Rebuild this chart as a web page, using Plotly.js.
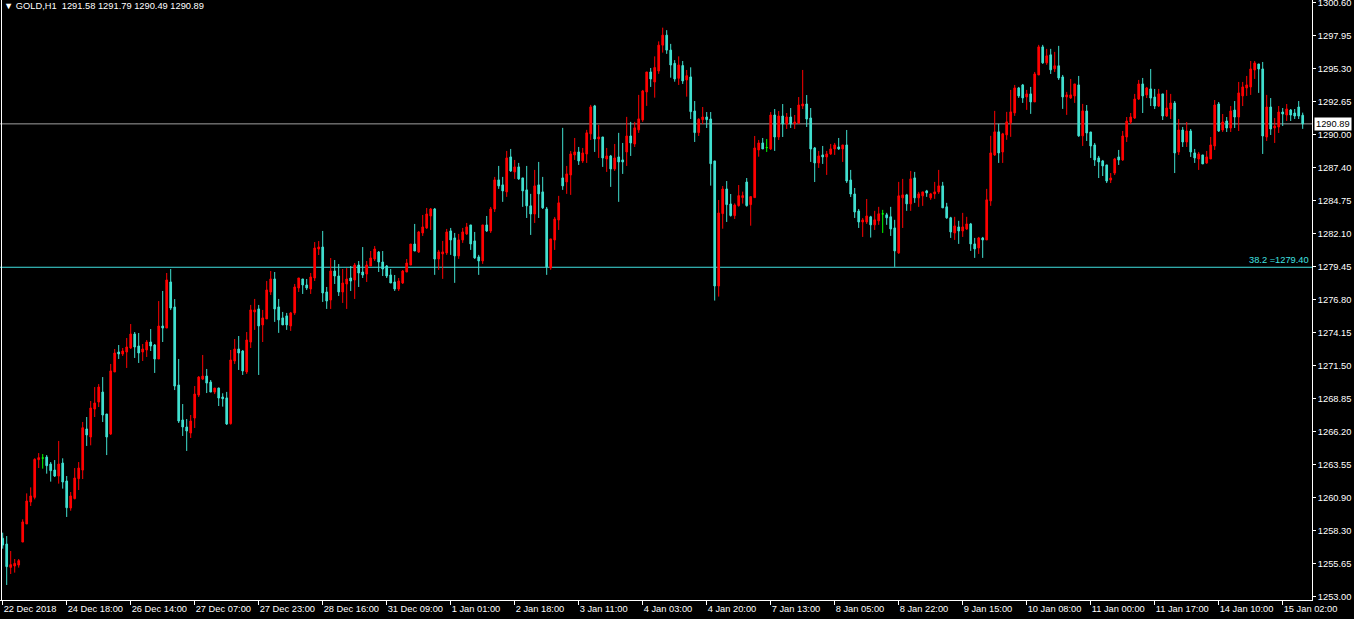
<!DOCTYPE html>
<html><head><meta charset="utf-8">
<script src="https://cdn.plot.ly/plotly-3.0.1.min.js"></script>
<style>html,body{margin:0;padding:0;background:#000;overflow:hidden}#chart{width:1354px;height:619px}</style>
</head><body><div id="chart"></div>
<script>
// GOLD H1 bars (index 0 = first visible bar)
const openP = [
1257.68,1257.22,1255.35,1255.46,1255.54,1257.38,1258.83,1260.59,1260.96,1263.98,
1264.11,1264.19,1263.63,1263.15,1262.67,1263.71,1262.27,1260.11,1260.86,1262.46,
1263.15,1266.44,1265.80,1268.04,1268.60,1269.40,1267.64,1266.04,1271.01,1272.61,
1272.45,1272.61,1272.93,1274.05,1273.09,1272.61,1272.77,1273.41,1273.17,1272.05,
1274.69,1274.53,1278.22,1276.21,1269.96,1267.16,1266.60,1266.12,1267.32,1269.16,
1270.44,1270.68,1270.20,1269.40,1269.72,1269.00,1268.93,1266.87,1271.89,1272.85,
1272.69,1271.01,1273.41,1275.82,1276.06,1274.78,1275.26,1277.42,1278.46,1276.22,
1275.34,1275.50,1274.70,1275.74,1277.74,1278.46,1277.98,1277.66,1278.54,1280.86,
1281.02,1277.42,1276.78,1279.10,1278.70,1277.42,1278.06,1278.54,1278.38,1279.58,
1279.02,1278.86,1279.50,1280.06,1280.62,1279.82,1279.50,1278.78,1278.22,1277.66,
1278.14,1279.02,1279.58,1281.26,1280.62,1282.15,1282.55,1283.51,1284.07,1280.07,
1280.47,1280.55,1282.31,1281.75,1280.31,1281.59,1282.07,1282.79,1281.51,1280.23,
1279.91,1282.79,1282.31,1284.07,1286.40,1286.00,1285.44,1288.24,1287.04,1287.44,
1286.56,1285.60,1284.32,1283.67,1286.00,1285.44,1284.07,1279.35,1281.59,1283.19,
1286.56,1286.24,1286.80,1288.40,1288.64,1287.92,1288.48,1290.09,1292.33,1289.68,
1289.84,1288.08,1288.32,1287.28,1288.24,1288.00,1288.64,1289.92,1289.28,1290.41,
1291.21,1293.45,1295.05,1294.25,1295.13,1297.20,1298.00,1296.80,1295.74,1294.54,
1295.56,1294.41,1294.65,1291.92,1290.19,1291.23,1291.44,1291.28,1287.92,1277.90,
1283.70,1285.67,1284.47,1283.54,1284.34,1284.98,1286.23,1284.42,1284.98,1288.80,
1289.36,1288.99,1288.88,1291.60,1289.84,1291.52,1290.88,1291.44,1290.93,1290.96,
1292.33,1292.48,1291.36,1288.96,1287.76,1288.40,1288.24,1288.48,1288.88,1289.04,
1288.88,1289.20,1286.39,1285.27,1283.91,1283.03,1283.03,1283.44,1282.80,1283.12,
1283.68,1283.60,1283.44,1282.55,1280.55,1284.96,1285.20,1284.48,1286.56,1284.96,
1285.12,1285.52,1284.96,1285.28,1285.44,1285.92,1284.24,1283.36,1282.15,1282.63,
1282.31,1282.47,1282.87,1281.27,1280.95,1281.75,1281.59,1284.72,1288.40,1290.25,
1288.64,1290.01,1290.97,1291.77,1293.77,1294.01,1293.05,1293.29,1292.65,1294.81,
1297.06,1295.78,1296.42,1295.30,1295.54,1294.65,1293.05,1292.97,1293.13,1294.01,
1289.93,1291.92,1290.24,1289.20,1288.16,1287.92,1287.60,1286.39,1286.95,1288.24,
1288.00,1289.84,1291.04,1291.36,1292.88,1294.09,1293.21,1293.69,1293.04,1292.32,
1293.29,1291.52,1292.08,1292.56,1288.64,1290.40,1289.44,1290.32,1288.56,1288.08,
1288.40,1287.76,1288.08,1289.12,1292.48,1290.40,1291.12,1290.56,1292.00,1291.44,
1293.13,1293.77,1293.85,1295.21,1295.69,1295.29,1289.84,1292.24,1290.56,1290.64,
1291.84,1291.60,1292.00,1291.76,1292.24,1291.58];
const highP = [
1258.13,1257.86,1256.66,1256.02,1256.02,1259.20,1261.28,1261.76,1264.09,1264.51,
1264.43,1264.35,1263.79,1263.95,1265.48,1264.09,1262.67,1261.39,1263.31,1263.79,
1267.00,1267.40,1268.68,1269.80,1270.04,1270.60,1267.64,1271.65,1272.85,1273.17,
1272.93,1273.73,1274.85,1274.21,1274.13,1273.25,1273.57,1274.45,1273.25,1276.69,
1277.50,1278.94,1279.26,1276.85,1272.05,1268.44,1267.24,1267.56,1269.88,1270.68,
1272.37,1271.25,1270.36,1269.72,1269.75,1269.30,1269.41,1272.77,1273.65,1273.89,
1272.77,1274.21,1276.38,1276.86,1276.38,1275.98,1278.30,1279.10,1279.02,1276.86,
1275.82,1275.74,1275.82,1278.06,1278.54,1278.46,1278.46,1278.94,1281.42,1281.50,
1282.31,1277.82,1280.14,1279.98,1279.66,1279.26,1279.34,1279.50,1279.74,1279.90,
1281.02,1279.90,1280.70,1281.10,1280.70,1280.70,1279.58,1279.26,1278.78,1278.54,
1279.18,1280.06,1281.26,1282.87,1282.31,1283.59,1284.15,1284.15,1284.15,1280.79,
1281.51,1282.47,1282.55,1282.15,1282.07,1282.55,1282.95,1282.79,1282.23,1280.39,
1282.79,1283.51,1284.23,1286.64,1287.52,1286.64,1288.72,1288.88,1288.00,1287.76,
1286.56,1287.52,1285.28,1287.20,1287.84,1286.64,1284.23,1281.67,1283.43,1285.12,
1290.57,1287.52,1288.72,1289.76,1289.04,1288.96,1290.41,1292.41,1292.41,1290.81,
1289.84,1288.96,1288.40,1289.28,1290.17,1289.36,1291.45,1291.05,1291.05,1293.21,
1293.61,1295.05,1295.37,1296.30,1297.50,1298.60,1298.40,1297.30,1296.00,1296.30,
1295.93,1295.21,1295.42,1292.72,1291.34,1292.24,1291.84,1291.84,1287.92,1284.79,
1285.91,1286.31,1285.27,1284.52,1285.99,1285.46,1286.55,1285.06,1289.92,1289.60,
1289.76,1289.68,1291.84,1292.08,1291.92,1292.48,1291.76,1292.16,1291.60,1293.04,
1295.21,1293.20,1292.16,1289.04,1288.72,1289.12,1288.72,1289.28,1289.36,1289.76,
1289.20,1290.40,1287.20,1285.75,1284.07,1283.35,1284.87,1283.52,1283.92,1284.24,
1284.00,1283.76,1284.24,1283.20,1286.24,1286.48,1285.28,1287.12,1287.04,1285.44,
1285.44,1285.60,1285.36,1286.24,1287.20,1286.24,1284.56,1283.44,1283.44,1283.12,
1283.76,1283.44,1282.95,1281.75,1281.83,1281.83,1285.68,1289.93,1291.93,1290.89,
1290.17,1291.85,1293.61,1294.01,1293.85,1294.09,1293.61,1293.85,1295.05,1297.22,
1297.22,1296.90,1296.90,1296.66,1297.14,1294.81,1293.45,1294.49,1294.09,1294.73,
1292.49,1292.40,1290.24,1289.36,1288.32,1288.00,1287.60,1286.95,1288.16,1288.80,
1290.32,1291.44,1291.76,1293.29,1294.41,1294.57,1293.85,1295.29,1293.69,1293.69,
1293.29,1293.61,1293.29,1292.72,1291.28,1290.64,1291.04,1290.48,1288.88,1288.64,
1288.40,1288.72,1289.84,1292.80,1292.64,1291.68,1291.44,1292.32,1292.72,1294.25,
1294.25,1294.73,1295.93,1295.93,1295.69,1295.85,1293.21,1292.96,1291.36,1292.32,
1292.16,1292.48,1292.08,1292.08,1292.72,1291.79];
const lowP = [
1256.85,1253.94,1254.82,1254.93,1255.33,1257.38,1258.83,1260.27,1260.80,1263.31,
1263.26,1262.86,1262.22,1262.59,1262.06,1261.66,1259.39,1259.89,1260.80,1261.55,
1262.43,1265.08,1265.13,1267.40,1268.20,1267.00,1264.35,1265.96,1271.01,1272.05,
1272.29,1271.33,1272.85,1272.13,1271.73,1271.89,1272.21,1272.69,1270.93,1272.05,
1273.41,1274.53,1275.97,1269.56,1266.92,1265.88,1264.68,1265.72,1266.52,1269.00,
1270.36,1269.32,1269.40,1269.24,1268.28,1268.23,1266.76,1266.79,1271.65,1271.17,
1270.77,1270.85,1272.93,1274.38,1270.77,1273.41,1275.26,1277.18,1275.02,1274.14,
1274.78,1274.38,1274.30,1275.58,1277.42,1277.26,1277.58,1277.26,1278.30,1280.38,
1276.62,1276.06,1276.06,1278.06,1277.10,1276.54,1276.06,1277.50,1276.86,1277.82,
1278.54,1278.22,1279.50,1279.90,1279.02,1278.70,1278.54,1278.14,1277.50,1277.50,
1278.06,1279.02,1279.58,1280.70,1280.54,1281.91,1282.47,1282.39,1278.79,1279.19,
1278.47,1280.39,1280.39,1278.15,1280.07,1281.35,1281.99,1280.79,1280.07,1278.79,
1279.67,1282.23,1282.15,1283.83,1285.68,1284.64,1285.04,1287.04,1286.48,1286.40,
1284.24,1283.35,1281.99,1282.95,1283.35,1284.07,1278.79,1279.19,1280.79,1282.39,
1285.60,1285.28,1285.20,1288.00,1287.60,1287.76,1287.76,1289.60,1288.64,1288.16,
1287.44,1287.04,1285.84,1287.12,1284.64,1286.88,1287.52,1288.32,1289.04,1290.17,
1291.05,1292.33,1293.85,1292.99,1294.90,1296.60,1296.50,1294.59,1294.27,1294.01,
1294.09,1293.07,1291.28,1289.44,1289.92,1290.88,1290.56,1285.94,1276.73,1277.05,
1282.49,1283.03,1283.46,1283.27,1284.26,1284.50,1284.26,1282.73,1284.98,1288.26,
1288.88,1288.64,1288.80,1288.72,1289.60,1289.84,1290.48,1290.56,1290.48,1290.88,
1292.08,1290.64,1287.84,1286.23,1287.36,1287.68,1286.80,1288.40,1288.40,1288.80,
1287.84,1286.15,1285.03,1283.35,1282.55,1281.83,1282.87,1281.78,1282.39,1282.80,
1282.15,1282.80,1281.91,1279.43,1280.47,1282.55,1283.92,1283.92,1284.56,1284.24,
1284.32,1285.04,1284.80,1284.88,1285.28,1284.16,1283.28,1281.75,1281.59,1281.27,
1281.83,1282.39,1280.71,1280.15,1280.47,1280.15,1281.59,1284.32,1288.32,1287.76,
1287.76,1289.61,1289.85,1291.53,1292.97,1292.57,1292.01,1291.69,1292.65,1294.81,
1295.70,1295.62,1294.89,1295.05,1294.41,1292.09,1291.61,1292.89,1292.57,1289.85,
1289.12,1289.52,1288.16,1287.52,1286.55,1286.71,1286.15,1286.15,1286.79,1287.60,
1287.92,1289.44,1290.88,1291.28,1292.80,1291.76,1292.96,1292.32,1292.08,1292.24,
1291.20,1291.44,1291.28,1286.95,1288.40,1289.04,1289.04,1288.24,1287.76,1287.20,
1287.68,1287.68,1288.08,1288.80,1290.24,1290.24,1290.24,1290.24,1290.56,1290.32,
1292.32,1293.13,1293.21,1294.49,1293.37,1288.48,1289.52,1290.00,1289.36,1290.16,
1290.72,1291.12,1291.12,1291.28,1291.28,1290.49];
const closeP = [
1257.14,1255.41,1255.57,1255.67,1255.89,1258.99,1260.67,1261.07,1264.01,1264.14,
1264.11,1263.50,1263.10,1262.67,1263.63,1262.19,1260.13,1261.07,1262.51,1263.31,
1266.54,1265.96,1268.12,1268.52,1269.80,1267.56,1265.80,1271.09,1272.53,1272.45,
1272.69,1273.01,1274.05,1273.01,1272.53,1272.85,1273.41,1273.09,1272.05,1274.69,
1274.53,1278.38,1276.13,1269.88,1267.08,1266.60,1266.28,1267.08,1269.24,1270.60,
1270.68,1270.12,1269.40,1269.72,1268.92,1268.87,1266.84,1271.97,1272.85,1272.53,
1271.09,1273.57,1275.98,1275.98,1274.70,1275.34,1277.58,1278.46,1276.06,1275.18,
1274.78,1274.78,1275.74,1277.82,1278.54,1277.98,1277.74,1278.62,1280.94,1281.02,
1277.34,1276.70,1279.10,1278.70,1277.42,1278.14,1278.46,1278.30,1279.58,1278.94,
1278.78,1279.58,1280.14,1280.86,1279.82,1279.26,1278.70,1278.14,1277.66,1278.30,
1279.10,1279.74,1281.26,1280.70,1282.23,1282.63,1283.67,1284.07,1280.06,1280.63,
1280.63,1282.23,1281.59,1280.31,1281.59,1282.23,1282.63,1281.27,1280.15,1279.91,
1282.79,1282.31,1284.07,1286.40,1285.92,1285.52,1288.16,1287.12,1287.44,1286.48,
1285.52,1284.32,1283.67,1285.92,1285.28,1284.16,1279.43,1281.67,1283.27,1284.56,
1285.92,1286.88,1288.48,1288.64,1287.92,1288.56,1290.17,1292.25,1289.68,1289.84,
1288.16,1288.32,1287.28,1288.16,1287.84,1287.84,1289.92,1289.36,1290.57,1291.29,
1293.53,1295.05,1294.49,1295.40,1297.20,1298.00,1296.80,1295.61,1294.49,1295.61,
1294.33,1294.75,1291.87,1290.19,1291.26,1291.44,1291.23,1287.70,1277.90,1283.75,
1285.67,1284.42,1283.54,1284.39,1285.14,1285.14,1284.34,1285.06,1288.96,1289.36,
1288.88,1288.99,1291.60,1289.84,1291.52,1290.88,1291.44,1290.88,1291.04,1292.40,
1292.48,1291.28,1288.88,1287.76,1288.32,1288.24,1288.48,1288.88,1289.20,1288.88,
1289.20,1286.31,1285.27,1283.83,1283.03,1283.19,1283.51,1282.80,1283.20,1283.68,
1283.68,1283.36,1282.47,1280.71,1285.12,1285.20,1284.48,1286.48,1284.96,1285.28,
1285.44,1285.36,1285.28,1285.44,1285.92,1284.16,1283.36,1282.23,1282.71,1282.31,
1282.63,1282.87,1281.27,1280.87,1281.75,1281.59,1284.80,1288.56,1290.25,1288.56,
1290.09,1291.05,1291.85,1293.77,1293.13,1292.97,1293.29,1292.65,1294.89,1297.06,
1295.78,1296.34,1295.22,1295.54,1294.57,1293.05,1293.21,1293.21,1294.09,1289.93,
1291.93,1290.16,1289.12,1288.00,1287.84,1287.52,1286.31,1286.55,1288.08,1288.00,
1289.92,1291.12,1291.44,1292.88,1294.09,1293.13,1293.77,1292.96,1292.32,1293.29,
1291.52,1292.16,1292.56,1288.56,1290.40,1289.44,1290.32,1288.64,1288.16,1288.48,
1287.68,1288.24,1289.20,1292.40,1290.32,1291.04,1290.56,1291.92,1291.44,1293.37,
1293.85,1294.01,1295.29,1295.77,1295.29,1289.92,1292.24,1290.48,1290.72,1291.84,
1291.68,1292.08,1291.60,1291.52,1291.52,1290.89];

// Time axis labels (one every 16 bars)
const timeLabels = ["22 Dec 2018","24 Dec 18:00","26 Dec 14:00","27 Dec 07:00","27 Dec 23:00",
  "28 Dec 16:00","31 Dec 09:00","1 Jan 01:00","2 Jan 18:00","3 Jan 11:00","4 Jan 03:00",
  "4 Jan 20:00","7 Jan 13:00","8 Jan 05:00","8 Jan 22:00","9 Jan 15:00","10 Jan 08:00",
  "11 Jan 00:00","11 Jan 17:00","14 Jan 10:00","15 Jan 02:00"];
const barsPerLabel = 16;
// Price scale labels
const priceLabels = ["1253.00","1255.65","1258.30","1260.90","1263.55","1266.20","1268.85",
  "1271.50","1274.15","1276.80","1279.45","1282.10","1284.75","1287.40","1290.00","1292.65",
  "1295.30","1297.95","1300.60"];
const priceMin = 1253.00, priceMax = 1300.60;
const bidPrice = 1290.89;
const fiboLevel = 1279.40, fiboLabel = "38.2 =1279.40";
const headerText = "GOLD,H1\u00a0\u00a01291.58 1291.79 1290.49 1290.89";

// ---------- build ----------
const idx = openP.map((_, i) => i);
const isDoji = i => openP[i] === closeP[i];
const sel = (arr, cond) => idx.filter(cond).map(i => arr[i]);
const notDoji = i => !isDoji(i);

const RED = '#ff0000', CYAN = '#40e0d0', LIME = '#00ff00';
const main = {
  type: 'candlestick',
  x: sel(idx, notDoji), open: sel(openP, notDoji), high: sel(highP, notDoji),
  low: sel(lowP, notDoji), close: sel(closeP, notDoji),
  increasing: {line: {color: RED, width: 1}, fillcolor: RED},
  decreasing: {line: {color: CYAN, width: 1}, fillcolor: CYAN},
  whiskerwidth: 0, hoverinfo: 'skip', showlegend: false
};
const doji = {
  type: 'candlestick',
  x: sel(idx, isDoji), open: sel(openP, isDoji), high: sel(highP, isDoji),
  low: sel(lowP, isDoji), close: sel(closeP, isDoji),
  increasing: {line: {color: LIME, width: 1}, fillcolor: LIME},
  decreasing: {line: {color: LIME, width: 1}, fillcolor: LIME},
  whiskerwidth: 0, hoverinfo: 'skip', showlegend: false
};

const W = 1354, H = 619;
const mR = 42, mB = 19;
const plotW = W - mR, plotH = H - mB;
const barPx = 4, firstBarPx = 2.7;
const x0 = -firstBarPx / barPx;
const pxPerPrice = 594 / (priceMax - priceMin);
const yTop = priceMax + 2.7 / pxPerPrice;
const yBot = priceMin - (plotH - 596.7) / pxPerPrice;

const step = (priceMax - priceMin) / (priceLabels.length - 1);
const yTickVals = priceLabels.map((_, k) => priceMin + k * step);
const xTickVals = timeLabels.map((_, k) => k * barsPerLabel);

const FONT = 'Liberation Sans, Arial, sans-serif';
const layout = {
  width: W, height: H,
  paper_bgcolor: '#000', plot_bgcolor: '#000',
  margin: {l: 0, r: mR, t: 0, b: mB, pad: 0},
  boxgap: 0.4,
  showlegend: false,
  xaxis: {
    range: [x0, x0 + plotW / barPx], type: 'linear',
    tickvals: xTickVals, ticktext: timeLabels,
    ticks: 'outside', ticklen: 4, tickcolor: '#fff', tickwidth: 1,
    ticklabelposition: 'outside right', tickangle: 0,
    ticklabeloverflow: 'allow',
    showline: true, linecolor: '#fff', linewidth: 1,
    showgrid: false, zeroline: false, fixedrange: true,
    rangeslider: {visible: false},
    tickfont: {family: FONT, size: 9.3, color: '#fff'}
  },
  yaxis: {
    range: [yBot, yTop], side: 'right',
    tickvals: yTickVals, ticktext: priceLabels,
    ticks: 'outside', ticklen: 3, tickcolor: '#fff', tickwidth: 1,
    ticklabeloverflow: 'allow',
    showline: true, linecolor: '#fff', linewidth: 1,
    showgrid: false, zeroline: false, fixedrange: true,
    tickfont: {family: FONT, size: 9.3, color: '#fff'}
  },
  shapes: [
    {type: 'line', xref: 'paper', yref: 'y', x0: 0, x1: 1, y0: bidPrice, y1: bidPrice,
     line: {color: '#a0a0a0', width: 1}, layer: 'below'},
    {type: 'line', xref: 'paper', yref: 'y', x0: 0, x1: 1, y0: fiboLevel, y1: fiboLevel,
     line: {color: '#40e0e0', width: 1}, layer: 'below'},
    {type: 'line', xref: 'paper', yref: 'paper', x0: 1.5 / plotW, x1: 1.5 / plotW, y0: 0, y1: 1,
     line: {color: '#ffffff', width: 1}}
  ],
  annotations: [
    {xref: 'paper', yref: 'paper', x: 0, y: 1, xanchor: 'left', yanchor: 'top',
     xshift: 2, yshift: 1, showarrow: false,
     text: '\u25bc\u00a0' + headerText, font: {family: FONT, size: 9.3, color: '#fff'}},
    {xref: 'paper', yref: 'y', x: 1, y: fiboLevel, xanchor: 'right', yanchor: 'bottom',
     xshift: -1, yshift: 0, showarrow: false,
     text: fiboLabel, font: {family: FONT, size: 9.3, color: '#40e0e0'}},
    {xref: 'paper', yref: 'y', x: 1, y: bidPrice, xanchor: 'left', yanchor: 'middle',
     xshift: 2, showarrow: false, bgcolor: '#ffffff', borderpad: 1,
     text: bidPrice.toFixed(2), font: {family: FONT, size: 9.3, color: '#000'}}
  ]
};

Plotly.newPlot('chart', [main, doji], layout, {staticPlot: true, displayModeBar: false});
</script>
</body></html>
